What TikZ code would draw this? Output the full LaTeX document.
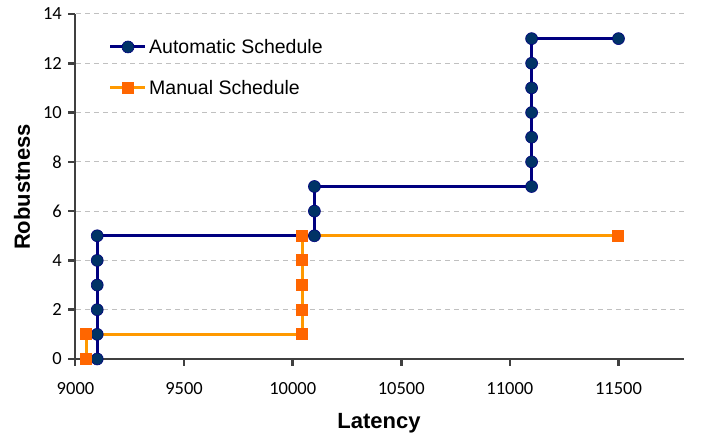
\documentclass[tikz,border=0pt]{standalone}
\usepackage{fontspec}
\setmainfont{Liberation Sans}
\newfontfamily\tickfont{Carlito}
\definecolor{autoline}{HTML}{000080}
\definecolor{automark}{HTML}{003366}
\definecolor{manline}{HTML}{FF9900}
\definecolor{manmark}{HTML}{FF6600}
\definecolor{axisgray}{HTML}{404040}
\definecolor{gridgray}{HTML}{C0C0C0}
\tikzset{
  axisline/.style={draw=axisgray, line width=2.5pt},
  gridline/.style={draw=gridgray, line width=1pt, dash pattern=on 5pt off 4pt},
  autoseries/.style={draw=autoline, line width=3pt, line join=round},
  manseries/.style={draw=manline, line width=3pt, line join=round},
  autodot/.style={circle, fill=automark, draw=autoline, line width=0.6pt, minimum size=12pt, inner sep=0pt},
  mansq/.style={rectangle, fill=manmark, minimum size=12pt, inner sep=0pt},
  ticklbl/.style={font=\tickfont\fontsize{18.5}{20}\selectfont, inner sep=0pt},
  legendlbl/.style={font=\fontsize{19.5}{21}\selectfont, anchor=west, inner sep=0pt},
  axistitle/.style={font=\bfseries\fontsize{22}{24}\selectfont, inner sep=0pt}
}
\begin{document}
\begin{tikzpicture}[x=1pt,y=1pt]
\useasboundingbox (0,0) rectangle (702,435);
\fill[white] (0,0) rectangle (702,435);

% horizontal grid
\foreach \r in {2,4,...,14}
  \draw[gridline] (76,{76+\r*24.643}) -- (684,{76+\r*24.643});

% axes and ticks
\draw[axisline] (75,{76+14*24.643}) -- (75,69);
\draw[axisline] (68,76) -- (684,76);
\foreach \r in {0,2,...,14}
  \draw[axisline] (68,{76+\r*24.643}) -- (75,{76+\r*24.643});
\foreach \v in {500,1000,1500,2000,2500}
  \draw[axisline] ({75.5+\v*0.2172},76) -- ({75.5+\v*0.2172},69);

% tick labels
\foreach \r in {0,2,...,14}
  \node[ticklbl, anchor=east] (ylab\r) at (62,{76+\r*24.643}) {\r};
\foreach \v/\t in {0/9000,500/9500,1000/10000,1500/10500,2000/11000,2500/11500}
  \node[ticklbl] (xlab\t) at ({75.5+\v*0.2172},46) {\t};

% axis titles
\node[axistitle] (xtitle) at (379,12) {Latency};
\node[axistitle, rotate=90] (ytitle) at (22,248) {Robustness};

% data series
\begin{scope}[shift={(75.5,76)}, x=0.2172pt, y=24.643pt]
  \draw[autoseries] (100,0) -- (100,5) -- (1100,5) -- (1100,7) -- (2100,7) -- (2100,13) -- (2500,13);
  \draw[manseries] (50,0) -- (50,1) -- (1045,1) -- (1045,5) -- (2500,5);
  \foreach \r in {0,...,5} \node[autodot] (a1\r) at (100,\r) {};
  \foreach \r in {5,6,7} \node[autodot] (a2\r) at (1100,\r) {};
  \foreach \r in {7,...,13} \node[autodot] (a3\r) at (2100,\r) {};
  \node[autodot] (aend) at (2500,13) {};
  \foreach \r in {0,1} \node[mansq] (m1\r) at (50,\r) {};
  \foreach \r in {1,...,5} \node[mansq] (m2\r) at (1045,\r) {};
  \node[mansq] (mend) at (2500,5) {};
\end{scope}

% legend
\coordinate (la0) at (110,388);
\coordinate (la1) at (145,388);
\draw[autoseries] (la0) -- (la1);
\node[autodot] (lam) at (128,388) {};
\node[legendlbl] (lat) at (149,388) {Automatic Schedule};
\coordinate (lm0) at (110,347);
\coordinate (lm1) at (145,347);
\draw[manseries] (lm0) -- (lm1);
\node[mansq] (lmm) at (128,347) {};
\node[legendlbl] (lmt) at (149,347) {Manual Schedule};
\end{tikzpicture}
\end{document}
